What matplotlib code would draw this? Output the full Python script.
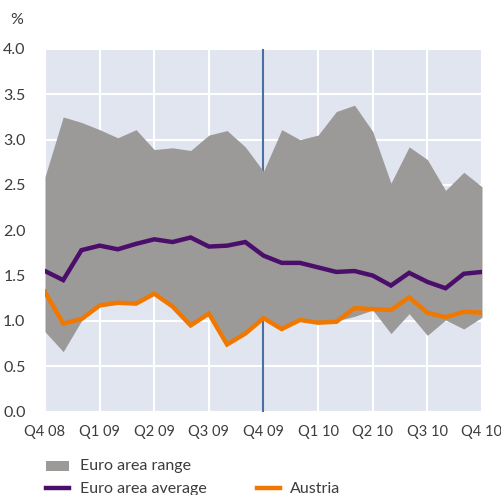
import numpy as np
import matplotlib
matplotlib.use("Agg")
import matplotlib.pyplot as plt
from matplotlib.patches import Rectangle
from matplotlib.lines import Line2D

plt.rcParams['font.family'] = ['Lato', 'DejaVu Sans']

# monthly observations, Q4 08 .. Q4 10
tick_labels = ['Q4 08', 'Q1 09', 'Q2 09', 'Q3 09', 'Q4 09', 'Q1 10', 'Q2 10', 'Q3 10', 'Q4 10']
range_high = [2.59, 3.25, 3.19, 3.11, 3.02, 3.11, 2.89, 2.91, 2.88, 3.05, 3.10, 2.92, 2.65,
              3.11, 3.00, 3.05, 3.31, 3.38, 3.09, 2.52, 2.92, 2.78, 2.44, 2.64, 2.48]
range_low = [0.88, 0.66, 1.00, 1.17, 1.20, 1.19, 1.30, 1.16, 0.95, 1.08, 0.74, 0.86, 1.03,
             0.91, 1.01, 0.98, 1.00, 1.05, 1.12, 0.86, 1.08, 0.84, 1.01, 0.91, 1.04]
euro_avg = [1.55, 1.45, 1.78, 1.83, 1.79, 1.85, 1.90, 1.87, 1.92, 1.82, 1.83, 1.87, 1.72,
            1.64, 1.64, 1.59, 1.54, 1.55, 1.50, 1.39, 1.53, 1.43, 1.36, 1.52, 1.54]
austria = [1.32, 0.97, 1.02, 1.17, 1.20, 1.19, 1.30, 1.16, 0.95, 1.08, 0.74, 0.86, 1.03,
           0.91, 1.01, 0.98, 0.99, 1.14, 1.13, 1.12, 1.26, 1.09, 1.04, 1.10, 1.09]

bg = '#e1e5f0'
grey = '#9c9a98'
purple = '#4b0f6b'
orange = '#f07800'
txt = '#3c3c3c'

x = np.arange(len(euro_avg))

fig = plt.figure(figsize=(5.02, 4.95), dpi=100)
ax = fig.add_axes([45 / 502, 1 - 411.5 / 495, 437 / 502, 362.5 / 495])
ax.set_facecolor(bg)
for s in ax.spines.values():
    s.set_visible(False)

ax.set_xlim(0, 24)
ax.set_ylim(0, 4)
ax.set_xticks(np.arange(0, 25, 3))
ax.set_xticklabels(tick_labels)
ax.set_yticks(np.arange(0, 4.01, 0.5))
ax.set_yticklabels([f'{v:.1f}' for v in np.arange(0, 4.01, 0.5)])
ax.tick_params(length=0, labelsize=10.5, colors=txt)
ax.tick_params(axis='y', pad=14, labelsize=11.5)
ax.tick_params(axis='x', pad=10)
ax.grid(True, color='white', linewidth=1.5)
ax.set_axisbelow(True)

ax.axvline(12, color='#4a6fa0', linewidth=1.5, zorder=1)
ax.fill_between(x, range_low, range_high, color=grey, linewidth=0, zorder=2)
ax.plot(x, euro_avg, color=purple, linewidth=3.2, zorder=3, solid_joinstyle='miter')
ax.plot(x, austria, color=orange, linewidth=3.2, zorder=4, solid_joinstyle='miter')

fig.text(10 / 502, 1 - 20 / 495, '%', fontsize=11.5, color=txt, va='center', ha='left')

# legend
fig.add_artist(Rectangle((46 / 502, 1 - 471 / 495), 23 / 502, 10 / 495,
                         transform=fig.transFigure, color=grey, lw=0))
fig.text(80 / 502, 1 - 466 / 495, 'Euro area range', fontsize=11.5, color=txt, va='center')
fig.add_artist(Line2D([46 / 502, 69 / 502], [1 - 488 / 495] * 2,
                      transform=fig.transFigure, color=purple, lw=3.2))
fig.text(80 / 502, 1 - 489 / 495, 'Euro area average', fontsize=11.5, color=txt, va='center')
fig.add_artist(Line2D([257 / 502, 280 / 502], [1 - 488 / 495] * 2,
                      transform=fig.transFigure, color=orange, lw=3.2))
fig.text(290 / 502, 1 - 489 / 495, 'Austria', fontsize=11.5, color=txt, va='center')

fig.savefig('out.png', dpi=100)
